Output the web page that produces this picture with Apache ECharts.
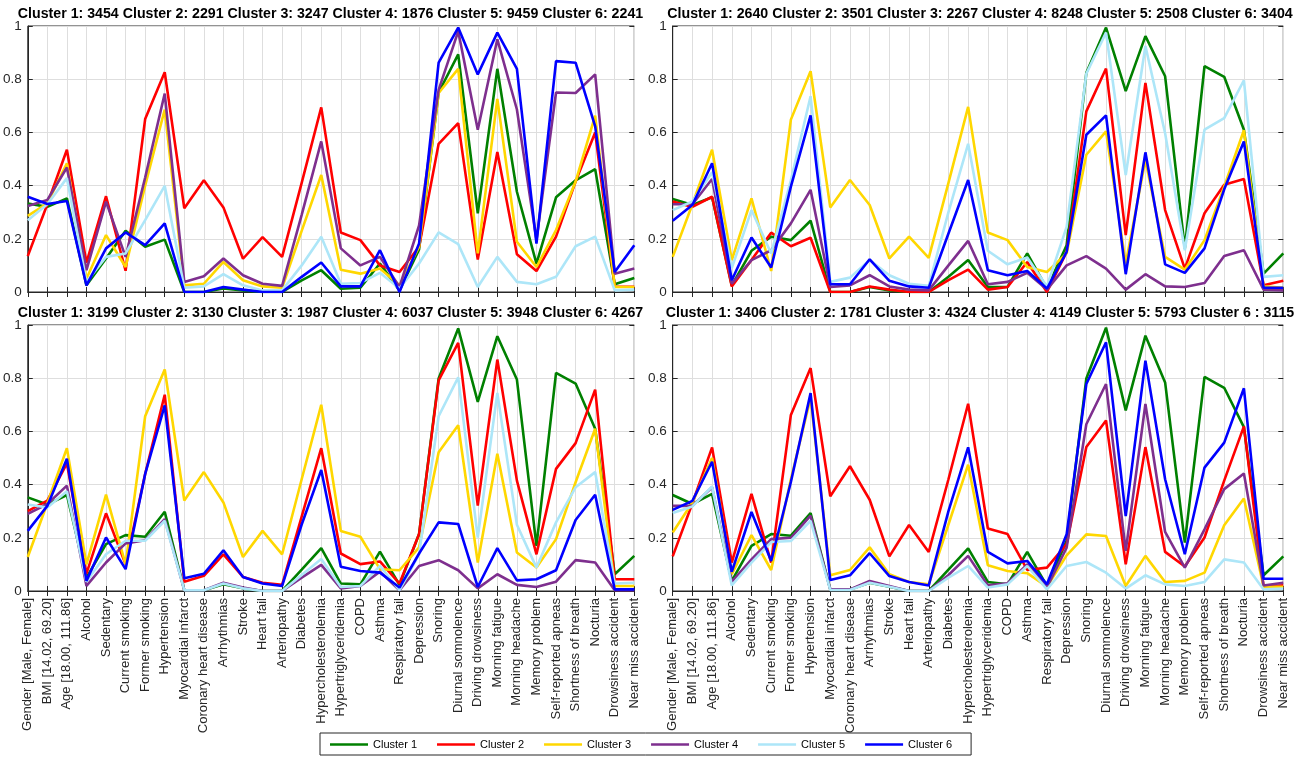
<!DOCTYPE html>
<html><head><meta charset="utf-8">
<script src="https://cdn.jsdelivr.net/npm/echarts/dist/echarts.min.js"></script>
<style>html,body{margin:0;padding:0;background:#fff}#chart{width:1309px;height:760px}</style>
</head><body><div id="chart"></div>
<script>
const categories = ['Gender [Male, Female]','BMI [14.02, 69.20]','Age [18.00, 111.86]','Alcohol','Sedentary','Current smoking','Former smoking','Hypertension','Myocardial infarct','Coronary heart disease','Arrhythmias','Stroke','Heart fail','Arteriopathy','Diabetes','Hypercholesterolemia','Hypertriglyceridemia','COPD','Asthma','Respiratory fail','Depression','Snoring','Diurnal somnolence','Driving drowsiness','Morning fatigue','Morning headache','Memory problem','Self-reported apneas','Shortness of breath','Nocturia','Drowsiness accident','Near miss accident'];
const clusterNames = ['Cluster 1','Cluster 2','Cluster 3','Cluster 4','Cluster 5','Cluster 6'];
const yTicks = [0, 0.2, 0.4, 0.6, 0.8, 1];

const titleTL = 'Cluster 1: 3454 Cluster 2: 2291 Cluster 3: 3247 Cluster 4: 1876 Cluster 5: 9459 Cluster 6: 2241';
const titleTR = 'Cluster 1: 2640 Cluster 2: 3501 Cluster 3: 2267 Cluster 4: 8248 Cluster 5: 2508 Cluster 6: 3404';
const titleBL = 'Cluster 1: 3199 Cluster 2: 3130 Cluster 3: 1987 Cluster 4: 6037 Cluster 5: 3948 Cluster 6: 4267';
const titleBR = 'Cluster 1: 3406 Cluster 2: 1781 Cluster 3: 4324 Cluster 4: 4149 Cluster 5: 5793 Cluster 6 : 3115';

// Top-left panel
const tlCluster1 = [0.333,0.32,0.352,0.025,0.126,0.23,0.17,0.197,0,0,0.013,0.006,0,0,0.044,0.082,0.012,0.016,0.107,0.006,0.16,0.75,0.893,0.296,0.839,0.377,0.107,0.356,0.42,0.462,0.029,0.053];
const tlCluster2 = [0.135,0.33,0.535,0.11,0.36,0.08,0.65,0.826,0.315,0.42,0.318,0.125,0.206,0.132,0.41,0.694,0.224,0.195,0.1,0.075,0.17,0.557,0.635,0.122,0.526,0.142,0.079,0.208,0.415,0.6,0.02,0.02];
const tlCluster3 = [0.286,0.333,0.484,0.05,0.214,0.094,0.4,0.686,0.025,0.031,0.113,0.044,0.021,0.016,0.23,0.44,0.084,0.069,0.088,0.025,0.17,0.748,0.839,0.145,0.726,0.189,0.094,0.233,0.415,0.663,0.019,0.019];
const tlCluster4 = [0.323,0.346,0.468,0.082,0.34,0.132,0.43,0.746,0.038,0.059,0.126,0.063,0.031,0.023,0.29,0.566,0.164,0.1,0.132,0.019,0.25,0.76,0.98,0.61,0.95,0.686,0.195,0.75,0.748,0.818,0.069,0.088];
const tlCluster5 = [0.27,0.33,0.428,0.038,0.132,0.145,0.27,0.399,0.016,0.021,0.067,0.025,0.006,0.006,0.1,0.208,0.031,0.034,0.072,0.013,0.107,0.224,0.18,0.019,0.132,0.038,0.029,0.057,0.172,0.208,0.006,0.009];
const tlCluster6 = [0.358,0.331,0.342,0.025,0.164,0.224,0.176,0.258,0,0,0.019,0.009,0,0,0.057,0.111,0.021,0.021,0.157,0,0.182,0.862,0.994,0.818,0.975,0.839,0.182,0.868,0.862,0.623,0.075,0.176];

// Top-right panel
const trCluster1 = [0.35,0.327,0.356,0.025,0.155,0.208,0.195,0.268,0,0,0.019,0.006,0,0,0.057,0.12,0.019,0.019,0.145,0.013,0.176,0.824,0.994,0.755,0.962,0.811,0.164,0.849,0.809,0.61,0.069,0.145];
const trCluster2 = [0.34,0.32,0.358,0.021,0.12,0.223,0.172,0.204,0,0,0.021,0.009,0,0,0.045,0.084,0.009,0.019,0.113,0,0.151,0.679,0.84,0.214,0.786,0.308,0.088,0.296,0.403,0.425,0.025,0.042];
const trCluster3 = [0.132,0.33,0.535,0.12,0.352,0.079,0.648,0.83,0.318,0.421,0.327,0.126,0.208,0.128,0.41,0.696,0.224,0.195,0.094,0.075,0.145,0.516,0.604,0.107,0.497,0.132,0.084,0.195,0.396,0.608,0.021,0.016];
const trCluster4 = [0.33,0.33,0.425,0.031,0.12,0.157,0.258,0.384,0.019,0.025,0.063,0.021,0.009,0.006,0.1,0.192,0.029,0.038,0.072,0.009,0.1,0.135,0.088,0.009,0.067,0.021,0.019,0.034,0.135,0.157,0.009,0.006];
const trCluster5 = [0.308,0.34,0.45,0.09,0.308,0.145,0.42,0.736,0.038,0.054,0.12,0.063,0.031,0.023,0.3,0.557,0.155,0.104,0.13,0.021,0.245,0.821,0.975,0.44,0.925,0.597,0.157,0.61,0.654,0.796,0.057,0.063];
const trCluster6 = [0.268,0.327,0.484,0.044,0.205,0.092,0.396,0.664,0.029,0.029,0.123,0.042,0.021,0.016,0.22,0.421,0.082,0.063,0.079,0.013,0.151,0.591,0.664,0.067,0.525,0.104,0.072,0.164,0.386,0.566,0.016,0.016];

// Bottom-left panel
const blCluster1 = [0.352,0.325,0.361,0.05,0.176,0.21,0.204,0.298,0.003,0.003,0.025,0.01,0,0,0.08,0.161,0.028,0.025,0.148,0.023,0.214,0.799,0.987,0.711,0.958,0.795,0.17,0.82,0.78,0.61,0.063,0.132];
const blCluster2 = [0.3,0.34,0.48,0.065,0.292,0.1,0.44,0.738,0.035,0.057,0.138,0.053,0.031,0.023,0.28,0.537,0.141,0.101,0.111,0.028,0.214,0.792,0.933,0.321,0.87,0.415,0.138,0.459,0.556,0.757,0.044,0.044];
const blCluster3 = [0.128,0.33,0.537,0.1,0.362,0.1,0.657,0.833,0.34,0.447,0.333,0.128,0.226,0.138,0.42,0.7,0.226,0.204,0.082,0.078,0.164,0.522,0.623,0.107,0.516,0.145,0.088,0.195,0.409,0.61,0.019,0.019];
const blCluster4 = [0.29,0.327,0.396,0.019,0.107,0.179,0.191,0.27,0.003,0.003,0.031,0.013,0,0,0.05,0.098,0.01,0.019,0.073,0.003,0.094,0.116,0.078,0.01,0.063,0.023,0.015,0.035,0.116,0.107,0.003,0.003];
const blCluster5 = [0.325,0.314,0.375,0.035,0.138,0.189,0.189,0.264,0.003,0.003,0.028,0.01,0,0,0.06,0.12,0.015,0.019,0.094,0.003,0.138,0.657,0.803,0.201,0.745,0.249,0.088,0.258,0.39,0.447,0.028,0.031];
const blCluster6 = [0.226,0.32,0.497,0.038,0.201,0.082,0.44,0.698,0.048,0.065,0.153,0.053,0.028,0.019,0.25,0.455,0.091,0.075,0.069,0.013,0.141,0.258,0.252,0.015,0.161,0.04,0.044,0.078,0.267,0.362,0.006,0.006];

// Bottom-right panel
const brCluster1 = [0.361,0.327,0.365,0.038,0.17,0.214,0.208,0.293,0.006,0.006,0.031,0.016,0,0,0.08,0.16,0.034,0.025,0.147,0.019,0.189,0.799,0.99,0.679,0.96,0.784,0.182,0.805,0.764,0.616,0.059,0.13];
const brCluster2 = [0.13,0.33,0.54,0.107,0.365,0.107,0.662,0.838,0.356,0.469,0.343,0.13,0.248,0.147,0.42,0.704,0.235,0.214,0.079,0.088,0.176,0.541,0.641,0.1,0.541,0.147,0.092,0.201,0.415,0.619,0.016,0.021];
const brCluster3 = [0.22,0.333,0.5,0.063,0.21,0.079,0.42,0.726,0.059,0.079,0.164,0.063,0.034,0.025,0.25,0.475,0.097,0.075,0.067,0.016,0.134,0.213,0.207,0.019,0.132,0.034,0.038,0.069,0.247,0.348,0.016,0.016];
const brCluster4 = [0.32,0.32,0.39,0.034,0.119,0.195,0.2,0.283,0.006,0.006,0.038,0.019,0,0,0.06,0.132,0.021,0.029,0.1,0.013,0.163,0.627,0.778,0.151,0.703,0.222,0.088,0.232,0.383,0.442,0.021,0.031];
const brCluster5 = [0.293,0.318,0.393,0.021,0.107,0.184,0.188,0.264,0.004,0.004,0.031,0.016,0,0,0.05,0.094,0.013,0.025,0.094,0.006,0.094,0.109,0.069,0.009,0.059,0.025,0.019,0.034,0.119,0.107,0.006,0.009];
const brCluster6 = [0.305,0.339,0.486,0.072,0.297,0.113,0.41,0.744,0.041,0.059,0.142,0.056,0.034,0.021,0.3,0.54,0.147,0.104,0.113,0.025,0.213,0.778,0.935,0.282,0.866,0.42,0.138,0.464,0.558,0.762,0.046,0.046];

// ---- presentation ----
const clusterColors = ['#008000','#FF0000','#FFD700','#7E2F8E','#ADE6F8','#0000FF'];
const FONT = '"Liberation Sans", Arial, Helvetica, sans-serif';
const AX = '#262626';
const GRIDC = '#DEDEDE';

const panels = [
  {title: titleTL, data: [tlCluster1,tlCluster2,tlCluster3,tlCluster4,tlCluster5,tlCluster6], left: 22.7, top: 26, width: 611.6, height: 266, labels: false},
  {title: titleTR, data: [trCluster1,trCluster2,trCluster3,trCluster4,trCluster5,trCluster6], left: 672.7, top: 26, width: 610.6, height: 266, labels: false},
  {title: titleBL, data: [blCluster1,blCluster2,blCluster3,blCluster4,blCluster5,blCluster6], left: 22.7, top: 325, width: 611.6, height: 266, labels: true},
  {title: titleBR, data: [brCluster1,brCluster2,brCluster3,brCluster4,brCluster5,brCluster6], left: 672.7, top: 325, width: 610.6, height: 266, labels: true}
];

const grid = [], xAxis = [], yAxis = [], series = [], graphic = [];
panels.forEach((p, i) => {
  grid.push({left: p.left, top: p.top, width: p.width, height: p.height, show: true,
    borderColor: AX, borderWidth: 1, backgroundColor: '#fff', containLabel: false});
  xAxis.push({type: 'category', gridIndex: i, data: categories, boundaryGap: false, position: 'bottom',
    axisLine: {show: true, lineStyle: {color: AX, width: 1}},
    axisTick: {show: true, inside: true, length: 5, interval: 0, lineStyle: {color: AX}},
    axisLabel: {show: p.labels, interval: 0, rotate: 90, margin: 7, fontSize: 13, color: AX, fontFamily: FONT},
    splitLine: {show: true, interval: 0, lineStyle: {color: GRIDC, width: 1}}});
  yAxis.push({type: 'value', gridIndex: i, min: 0, max: 1, interval: 0.2, position: 'left',
    axisLine: {show: true, lineStyle: {color: AX, width: 1}},
    axisTick: {show: true, inside: true, length: 5, lineStyle: {color: AX}},
    axisLabel: {show: true, margin: 6, fontSize: 13.5, color: AX, fontFamily: FONT,
      formatter: v => String(Math.round(v * 10) / 10)},
    splitLine: {show: true, lineStyle: {color: GRIDC, width: 1}}});
  graphic.push({type: 'text', x: p.left + p.width / 2 + 2, y: p.top - 12,
    style: {text: p.title, font: 'bold 14.2px ' + FONT, fill: '#000',
      textAlign: 'center', textVerticalAlign: 'middle', align: 'center', verticalAlign: 'middle'}});
});
panels.forEach((p, i) => {
  xAxis.push({type: 'category', gridIndex: i, data: categories, boundaryGap: false, position: 'top',
    axisLine: {show: false}, axisTick: {show: true, inside: true, length: 5, interval: 0, lineStyle: {color: AX}},
    axisLabel: {show: false}, splitLine: {show: false}});
  yAxis.push({type: 'value', gridIndex: i, min: 0, max: 1, interval: 0.2, position: 'right',
    axisLine: {show: false}, axisTick: {show: true, inside: true, length: 5, lineStyle: {color: AX}},
    axisLabel: {show: false}, splitLine: {show: false}});
});
panels.forEach((p, i) => {
  p.data.forEach((vals, k) => {
    series.push({type: 'line', name: clusterNames[k], xAxisIndex: i, yAxisIndex: i, data: vals,
      showSymbol: false, symbol: 'none', silent: true,
      lineStyle: {color: clusterColors[k], width: 2.6}, itemStyle: {color: clusterColors[k]},
      emphasis: {disabled: true}});
  });
});

const chart = echarts.init(document.getElementById('chart'), null, {renderer: 'canvas'});
chart.setOption({
  animation: false,
  backgroundColor: '#fff',
  grid, xAxis, yAxis, series, graphic,
  legend: {data: clusterNames, left: 320, top: 733, orient: 'horizontal', icon: 'rect',
    itemWidth: 38, itemHeight: 2.5, itemGap: 20,
    padding: [6, 19, 5, 10], borderColor: AX, borderWidth: 1, backgroundColor: '#fff',
    textStyle: {fontSize: 11, color: '#000', fontFamily: FONT, padding: [0, 0, 0, 0]}, selectedMode: false}
});
</script></body></html>
